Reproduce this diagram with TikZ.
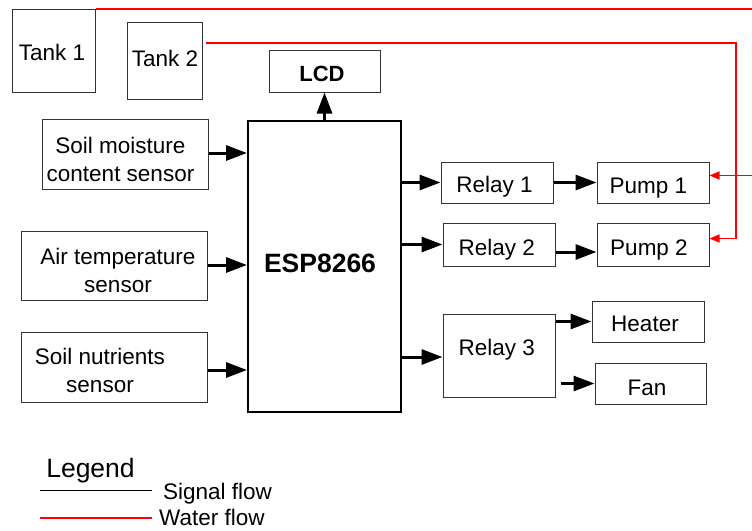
\documentclass[tikz,border=0pt]{standalone}
\usepackage{fontspec}
\setmainfont{Liberation Sans}
\usetikzlibrary{arrows.meta,calc}
\definecolor{waterred}{RGB}{255,0,0}
\tikzset{
  box/.style={draw=black!80, line width=1pt, rectangle, inner sep=0pt, fill=none},
  txt/.style={inner sep=0pt, align=center, font=\fontsize{22.5}{28}\selectfont},
  sig/.style={line width=3pt, -{Triangle[length=21pt,width=15pt]}},
  water/.style={color=waterred, line width=1.3pt, -{Triangle[length=10pt,width=8pt]}},
  legline/.style={line width=1pt},
}
\begin{document}
\begin{tikzpicture}[x=1pt,y=-1pt]
\useasboundingbox (0,0) rectangle (752,530);
% boxes
\node[box, minimum width=83pt, minimum height=83pt] (tank1) at (53.5,50.5) {};
\node[box, minimum width=75pt, minimum height=77pt] (tank2) at (164.5,60.5) {};
\node[box, minimum width=111pt, minimum height=42pt] (lcd) at (324.5,71) {};
\node[box, minimum width=166pt, minimum height=70pt] (soil) at (125,154) {};
\node[box, minimum width=186pt, minimum height=69pt] (air) at (114,265.5) {};
\node[box, minimum width=186pt, minimum height=70pt] (nutr) at (114,367) {};
\node[box, draw=black, line width=2pt, minimum width=153pt, minimum height=291pt] (esp) at (324.5,266.5) {};
\node[box, minimum width=112pt, minimum height=41pt] (relay1) at (497,182.5) {};
\node[box, minimum width=112pt, minimum height=41pt] (pump1) at (653,182.5) {};
\node[box, minimum width=112pt, minimum height=43pt] (relay2) at (499,244.5) {};
\node[box, minimum width=112pt, minimum height=43pt] (pump2) at (653,244.5) {};
\node[box, minimum width=112pt, minimum height=83pt] (relay3) at (499,355.5) {};
\node[box, minimum width=112pt, minimum height=41pt] (heater) at (648,321.5) {};
\node[box, minimum width=111pt, minimum height=41pt] (fan) at (650.5,383.5) {};
% texts
\node[txt, anchor=base] (t-tank1) at (52,60) {Tank 1};
\node[txt, anchor=base] (t-tank2) at (165,66.5) {Tank 2};
\node[txt, anchor=base, font=\fontsize{22}{26}\selectfont\bfseries] (t-lcd) at (322,81.5) {LCD};
\node[txt] (t-soil) at (120.5,159) {Soil moisture\\content sensor};
\node[txt] (t-air) at (118,270.5) {Air temperature\\sensor};
\node[txt] (t-nutr) at (100,370) {Soil nutrients\\sensor};
\node[txt, anchor=base, font=\fontsize{26.5}{30}\selectfont\bfseries] (t-esp) at (320,272) {ESP8266};
\node[txt, anchor=base] (t-relay1) at (494.5,192.7) {Relay 1};
\node[txt, anchor=base] (t-pump1) at (648.3,193) {Pump 1};
\node[txt, anchor=base] (t-relay2) at (496.7,255) {Relay 2};
\node[txt, anchor=base] (t-pump2) at (649,255) {Pump 2};
\node[txt, anchor=base] (t-relay3) at (496.7,355) {Relay 3};
\node[txt, anchor=base] (t-heater) at (645,331.5) {Heater};
\node[txt, anchor=base] (t-fan) at (647,395) {Fan};
% signal connectors
\draw[sig] (esp.north -| lcd.south) -- (lcd.south);
\draw[sig] (soil.east |- 0,153) -- (esp.west |- 0,153);
\draw[sig] (air.east |- 0,265) -- (esp.west |- 0,265);
\draw[sig] (nutr.east |- 0,370) -- (esp.west |- 0,370);
\draw[sig] (esp.east |- relay1.west) -- (relay1.west);
\draw[sig] (esp.east |- relay2.west) -- (relay2.west);
\draw[sig] (esp.east |- 0,357) -- (relay3.west |- 0,357);
\draw[sig] (relay1.east) -- (pump1.west);
\draw[sig] ([yshift=-7.5pt]relay2.east) -- ([yshift=-7.5pt]pump2.west);
\draw[sig] (relay3.east |- heater.west) -- (heater.west);
\draw[sig] ([xshift=5pt]relay3.east |- fan.west) -- (fan.west);
% water connectors
\coordinate (w1turn) at (757,9);
\coordinate (w2start) at (206,43);
\coordinate (w2turn) at (736,43);
\draw[water] (tank1.north east |- 0,9) -- (w1turn) |- ([yshift=7pt]pump1.east);
\draw[water] (w2start) -- (w2turn) |- ([yshift=6pt]pump2.east);
% legend
\node[txt, anchor=base, font=\fontsize{26.5}{30}\selectfont] (t-legend) at (90.5,477) {Legend};
\coordinate (sigA) at (40,490);
\coordinate (sigB) at (152,490);
\coordinate (watA) at (40,518);
\coordinate (watB) at (152,518);
\draw[legline] (sigA) -- (sigB);
\draw[legline, line width=1.3pt, waterred] (watA) -- (watB);
\node[txt, anchor=base west] (t-sig) at (163,499) {Signal flow};
\node[txt, anchor=base west] (t-wat) at (159,525) {Water flow};
\end{tikzpicture}
\end{document}
